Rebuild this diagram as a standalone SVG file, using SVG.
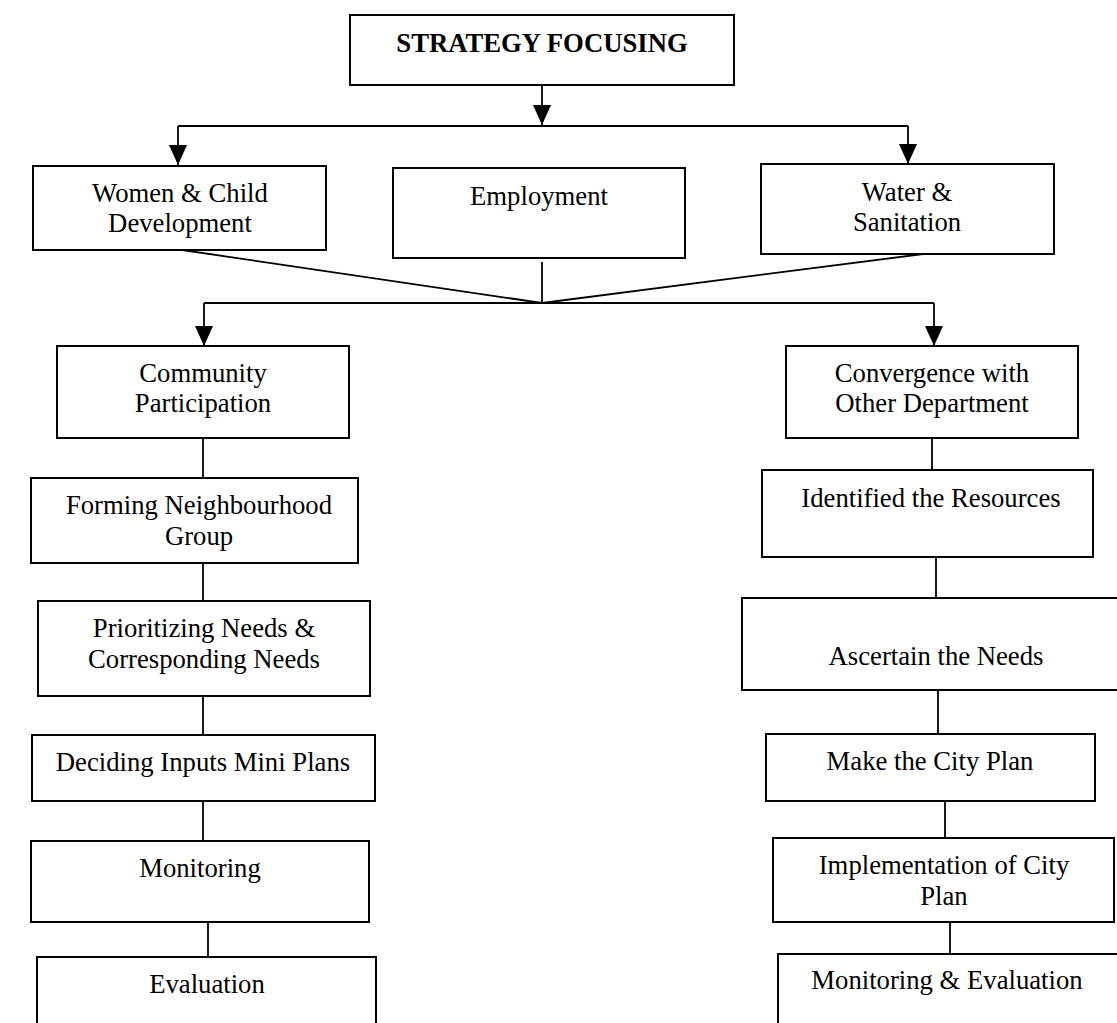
<svg xmlns="http://www.w3.org/2000/svg" width="1117" height="1023" viewBox="0 0 1117 1023">
<defs>
<marker id="arr" markerUnits="userSpaceOnUse" markerWidth="20" markerHeight="20" refX="20" refY="9" orient="auto" viewBox="0 0 20 18">
<path d="M0,0 L20,9 L0,18 z" fill="#000"/>
</marker>
<style>
rect{fill:#fff;stroke:#000;stroke-width:2}
text{font-family:"Liberation Serif","Times New Roman",serif;font-size:26.7px;fill:#000;text-anchor:middle}
.b{font-weight:bold}
#connectors line{stroke:#000;stroke-width:1.8;fill:none}
.a{marker-end:url(#arr)}
</style>
</defs>
<rect x="0" y="0" width="1117" height="1023" style="fill:#fff;stroke:none"/>
<g id="connectors">
<line class="a" x1="542" y1="85" x2="542" y2="125"/>
<line x1="178" y1="126" x2="908" y2="126"/>
<line class="a" x1="178" y1="126" x2="178" y2="165"/>
<line class="a" x1="908" y1="126" x2="908" y2="164"/>
<line x1="182" y1="250" x2="542" y2="303"/>
<line x1="542" y1="262" x2="542" y2="303"/>
<line x1="923" y1="254" x2="542" y2="303"/>
<line x1="204" y1="303" x2="934" y2="303"/>
<line class="a" x1="204" y1="303" x2="204" y2="346"/>
<line class="a" x1="934" y1="303" x2="934" y2="346"/>
<line x1="203" y1="438" x2="203" y2="478"/>
<line x1="203" y1="563" x2="203" y2="601"/>
<line x1="203" y1="696" x2="203" y2="735"/>
<line x1="203" y1="801" x2="203" y2="841"/>
<line x1="208" y1="918" x2="208" y2="957"/>
<line x1="932" y1="438" x2="932" y2="470"/>
<line x1="936" y1="557" x2="936" y2="598"/>
<line x1="938" y1="690" x2="938" y2="734"/>
<line x1="945" y1="801" x2="945" y2="838"/>
<line x1="950" y1="918" x2="950" y2="954"/>
</g>
<g id="n-strategy"><rect x="350" y="15" width="384" height="70"/><text class="b" x="542" y="52">STRATEGY FOCUSING</text></g>
<g id="n-women"><rect x="33" y="166" width="293" height="84"/><text x="180" y="202">Women &amp; Child</text><text x="180" y="232">Development</text></g>
<g id="n-employment"><rect x="393" y="168" width="292" height="90"/><text x="539" y="205">Employment</text></g>
<g id="n-water"><rect x="761" y="164" width="293" height="90"/><text x="907" y="201">Water &amp;</text><text x="907" y="231">Sanitation</text></g>
<g id="n-community"><rect x="57" y="346" width="292" height="92"/><text x="203" y="382">Community</text><text x="203" y="412">Participation</text></g>
<g id="n-convergence"><rect x="786" y="346" width="292" height="92"/><text x="932" y="382">Convergence with</text><text x="932" y="412">Other Department</text></g>
<g id="n-forming"><rect x="31" y="478" width="327" height="85"/><text x="199" y="514">Forming Neighbourhood</text><text x="199" y="545">Group</text></g>
<g id="n-prioritizing"><rect x="38" y="601" width="332" height="95"/><text x="204" y="637">Prioritizing Needs &amp;</text><text x="204" y="668">Corresponding Needs</text></g>
<g id="n-deciding"><rect x="32" y="735" width="343" height="66"/><text x="203" y="771">Deciding Inputs Mini Plans</text></g>
<g id="n-monitoring"><rect x="31" y="841" width="338" height="81"/><text x="200" y="877">Monitoring</text></g>
<g id="n-evaluation"><rect x="37" y="957" width="339" height="80"/><text x="207" y="993">Evaluation</text></g>
<g id="n-identified"><rect x="762" y="470" width="331" height="87"/><text x="931" y="507">Identified the Resources</text></g>
<g id="n-ascertain"><rect x="742" y="598" width="380" height="92"/><text x="936" y="665">Ascertain the Needs</text></g>
<g id="n-cityplan"><rect x="766" y="734" width="329" height="67"/><text x="930" y="770">Make the City Plan</text></g>
<g id="n-implementation"><rect x="773" y="838" width="341" height="84"/><text x="944" y="874">Implementation of City</text><text x="944" y="905">Plan</text></g>
<g id="n-me"><rect x="778" y="954" width="345" height="80"/><text x="947" y="989">Monitoring &amp; Evaluation</text></g>
</svg>
